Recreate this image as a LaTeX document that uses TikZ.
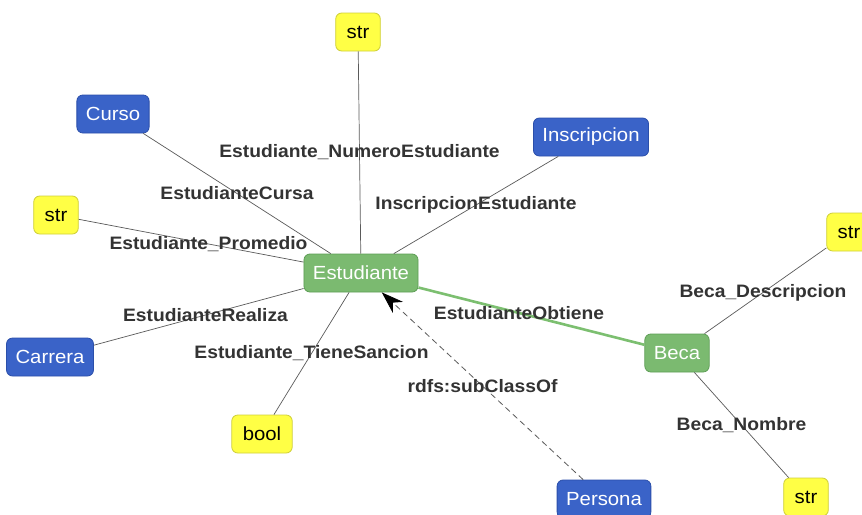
\documentclass[tikz,border=0pt]{standalone}
\usepackage{fontspec}
\setmainfont{Liberation Sans}[FakeStretch=1.07]
\usetikzlibrary{arrows.meta}
\definecolor{clsfill}{HTML}{3A63C8}
\definecolor{clsdraw}{HTML}{2B4FAA}
\definecolor{mainfill}{HTML}{7BBA70}
\definecolor{maindraw}{HTML}{5E9E56}
\definecolor{litfill}{HTML}{FFFF45}
\definecolor{litdraw}{HTML}{CFCF3A}
\definecolor{edgegray}{HTML}{5A5A5A}
\definecolor{labelgray}{HTML}{333333}
\definecolor{linkgreen}{HTML}{7CBF70}
\tikzset{
  box/.style={rounded corners=6pt, minimum height=38pt, inner xsep=9pt,
    line width=0.8pt, font=\fontsize{19}{21}\selectfont},
  classbox/.style={box, fill=clsfill, draw=clsdraw, text=white},
  mainbox/.style={box, fill=mainfill, draw=maindraw, text=white},
  litbox/.style={box, fill=litfill, draw=litdraw, text=black, inner xsep=11pt},
  link/.style={draw=edgegray, line width=0.7pt},
  strong/.style={draw=linkgreen, line width=2.6pt},
  sub/.style={draw=edgegray, line width=0.8pt, dash pattern=on 6pt off 4pt,
    -{Stealth[length=22pt,width=15pt,inset=7pt,black]}},
  lbl/.style={font=\bfseries\fontsize{18}{20}\selectfont, text=labelgray, inner sep=0pt}
}
\begin{document}
\begin{tikzpicture}[x=1pt,y=-1pt]
\useasboundingbox (0,0) rectangle (862,514);
\clip (0,0) rectangle (862,514);
\fill[white] (0,0) rectangle (862,514);

% node centres
\coordinate (cE) at (361,273);
\coordinate (cStrTop) at (358,32);
\coordinate (cCurso) at (113,114);
\coordinate (cInsc) at (591,137);
\coordinate (cStrL) at (56,215);
\coordinate (cCarrera) at (50,357);
\coordinate (cBool) at (262,434);
\coordinate (cBeca) at (677,353);
\coordinate (cStrR) at (849,232);
\coordinate (cStrB) at (806,497);
\coordinate (cPersona) at (604,499);

\node[mainbox] (est) at (cE) {Estudiante};
\node[litbox] (strtop) at (cStrTop) {str};
\node[classbox] (curso) at (cCurso) {Curso};
\node[classbox] (insc) at (cInsc) {Inscripcion};
\node[litbox] (strl) at (cStrL) {str};
\node[classbox] (carrera) at (cCarrera) {Carrera};
\node[litbox] (bool) at (cBool) {bool};
\node[mainbox] (beca) at (cBeca) {Beca};
\node[litbox] (strr) at (cStrR) {str};
\node[litbox] (strb) at (cStrB) {str};
\node[classbox] (persona) at (cPersona) {Persona};

% properties
\draw[link] (est) -- (strtop);
\draw[link] (est) -- (curso);
\draw[link] (est) -- (insc);
\draw[link] (est) -- (strl);
\draw[link] (est) -- (carrera);
\draw[link] (est) -- (bool);
\draw[strong] (est) -- (beca);
\draw[link] (beca) -- (strr);
\draw[link] (beca) -- (strb);
\draw[sub] (persona) -- (est);

% property labels at the middle of each edge
\path (cE) -- (cStrTop) node[midway, lbl] (l1) {Estudiante\_NumeroEstudiante};
\path (cE) -- (cCurso) node[midway, lbl] (l2) {EstudianteCursa};
\path (cE) -- (cInsc) node[midway, lbl] (l3) {InscripcionEstudiante};
\path (cE) -- (cStrL) node[midway, lbl] (l4) {Estudiante\_Promedio};
\path (cE) -- (cCarrera) node[midway, lbl] (l5) {EstudianteRealiza};
\path (cE) -- (cBool) node[midway, lbl] (l6) {Estudiante\_TieneSancion};
\path (cE) -- (cBeca) node[midway, lbl] (l7) {EstudianteObtiene};
\path (cE) -- (cPersona) node[midway, lbl] (l8) {rdfs:subClassOf};
\path (cBeca) -- (cStrR) node[midway, lbl] (l9) {Beca\_Descripcion};
\path (cBeca) -- (cStrB) node[midway, lbl] (l10) {Beca\_Nombre};
\end{tikzpicture}
\end{document}
